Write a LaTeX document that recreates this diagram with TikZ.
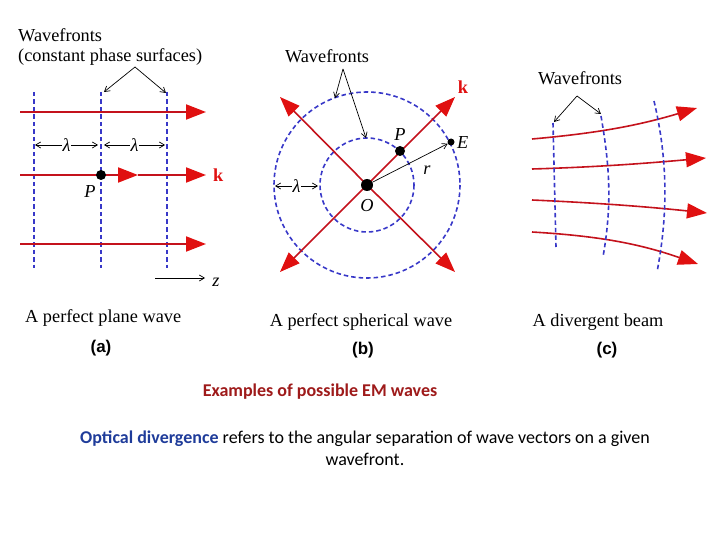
\documentclass[tikz,border=0pt]{standalone}
\usepackage{fontspec}
\setmainfont{Liberation Serif}
\newfontfamily\calib{Carlito}
\newfontfamily\arialf{Liberation Sans}
\usetikzlibrary{arrows.meta}
\definecolor{wred}{HTML}{E01010}
\definecolor{wline}{HTML}{C4121C}
\definecolor{wblue}{HTML}{3838C8}
\definecolor{capred}{HTML}{9E1A1A}
\definecolor{capblue}{HTML}{1F3C9A}
\begin{document}
\begin{tikzpicture}[x=1pt,y=-1pt,
  ray/.style={draw=wline,line width=2pt,-{Triangle[length=20pt,width=15pt,color=wred]}},
  sray/.style={draw=wline,line width=1.6pt,-{Triangle[length=20pt,width=15pt,color=wred]}},
  front/.style={draw=wblue,line width=1.6pt,dash pattern=on 4.5pt off 3pt},
  ptr/.style={draw=black,line width=0.7pt,-{Straight Barb[length=5pt,width=6pt]}},
  dptr/.style={draw=black,line width=0.7pt,{Straight Barb[length=5pt,width=6pt]}-{Straight Barb[length=5pt,width=6pt]}},
  lab/.style={font=\fontsize{18.3}{21}\selectfont,inner sep=0pt},
  ilab/.style={font=\itshape\fontsize{18.3}{21}\selectfont,inner sep=0pt},
  sub/.style={font=\arialf\bfseries\fontsize{17}{20}\selectfont,inner sep=0pt},
  kl/.style={font=\bfseries\fontsize{18.3}{21}\selectfont,text=wred,inner sep=0pt},
  dot/.style={circle,fill=black,inner sep=0pt,minimum size=#1},
  lam/.style={fill=white,inner sep=1pt,font=\itshape\fontsize{18.3}{21}\selectfont}
]
\path[use as bounding box] (0,0) rectangle (720,540);

% ---------- panel (a)
\node[lab,anchor=base west] (wfa1) at (18,42) {Wavefronts};
\node[lab,anchor=base west] (wfa2) at (18,62) {(constant phase surfaces)};
\foreach \x/\n in {34/1,101/2,167/3}{
  \coordinate (af\n t) at (\x,92);
  \coordinate (af\n b) at (\x,268);
  \draw[front] (af\n t) -- (af\n b);
}
\coordinate (ar1s) at (20,112); \coordinate (ar1e) at (206,112);
\coordinate (ar2s) at (20,175); \coordinate (ar2m) at (138,175); \coordinate (ar2e) at (206,175);
\coordinate (ar3s) at (20,244); \coordinate (ar3e) at (206,244);
\draw[ray] (ar1s) -- (ar1e);
\draw[ray] (ar2s) -- (ar2m);
\draw[ray] (ar2m) -- (ar2e);
\draw[ray] (ar3s) -- (ar3e);
\node[dot=10pt] (Pa) at (101,175) {};
\node[ilab] (Pal) at (90,192) {P};
\node[kl,anchor=west] (ka) at (213,175) {k};
\coordinate (la1) at (35,145); \coordinate (la2) at (98,145);
\coordinate (la3) at (104,145); \coordinate (la4) at (165,145);
\draw[dptr] (la1) -- node[lam] {λ} (la2);
\draw[dptr] (la3) -- node[lam] {λ} (la4);
\coordinate (apa) at (135,67);
\coordinate (pa1) at (104,92); \coordinate (pa2) at (166,93);
\draw[ptr] (apa) -- (pa1);
\draw[ptr] (apa) -- (pa2);
\coordinate (za) at (155,278); \coordinate (zb) at (205,278);
\draw[ptr] (za) -- (zb);
\node[ilab] (zl) at (216,282) {z};
\node[lab,anchor=base west] (capa) at (25,322) {A perfect plane wave};
\node[sub] (suba) at (101,348) {(a)};

% ---------- panel (b)
\coordinate (O) at (367,185);
\draw[front] (O) circle[radius=47];
\draw[front] (O) circle[radius=93];
\coordinate (bNE) at (455,97); \coordinate (bNW) at (280,97);
\coordinate (bSW) at (280,272); \coordinate (bSE) at (455,272);
\draw[sray] (O) -- (bNE);
\draw[sray] (O) -- (bNW);
\draw[sray] (O) -- (bSW);
\draw[sray] (O) -- (bSE);
\node[dot=12pt] (Ob) at (O) {};
\node[dot=10pt] (Pb) at (400,151) {};
\node[dot=7pt] (Eb) at (451,142) {};
\draw[ptr] (Ob) -- (Eb);
\node[ilab] (rl) at (427,170) {r};
\node[ilab,anchor=west] (El) at (457,143) {E};
\node[ilab] (Pbl) at (400,135) {P};
\node[ilab] (Obl) at (367,206) {O};
\node[kl] (kb) at (463,87) {k};
\coordinate (lb1) at (275,186); \coordinate (lb2) at (318,186);
\draw[dptr] (lb1) -- node[lam] {λ} (lb2);
\node[lab] (wfb) at (327,56) {Wavefronts};
\coordinate (apb) at (343,69);
\coordinate (pb1) at (335,98); \coordinate (pb2) at (366,138);
\draw[ptr] (apb) -- (pb1);
\draw[ptr] (apb) -- (pb2);
\node[lab,anchor=base] (capb) at (361,326) {A perfect spherical wave};
\node[sub] (subb) at (363,350) {(b)};

% ---------- panel (c)
\node[lab] (wfc) at (580,78) {Wavefronts};
\coordinate (apc) at (577,96);
\coordinate (pc1) at (554,122); \coordinate (pc2) at (601,114);
\draw[ptr] (apc) -- (pc1);
\draw[ptr] (apc) -- (pc2);
\coordinate (c1t) at (553,123); \coordinate (c1b) at (556,247);
\coordinate (c2t) at (601,116); \coordinate (c2b) at (603,257);
\coordinate (c3t) at (654,101); \coordinate (c3b) at (657,272);
\coordinate (r1s) at (532,139); \coordinate (r1e) at (697,108);
\coordinate (r2s) at (532,169); \coordinate (r2e) at (706,158);
\coordinate (r3s) at (532,200); \coordinate (r3e) at (707,213);
\coordinate (r4s) at (532,232); \coordinate (r4e) at (698,264);
\draw[sray] (r1s) .. controls (600,133) and (640,125) .. (r1e);
\draw[sray] (r2s) .. controls (600,167) and (650,163) .. (r2e);
\draw[sray] (r3s) .. controls (600,203) and (650,207) .. (r3e);
\draw[sray] (r4s) .. controls (600,236) and (640,244) .. (r4e);
\draw[front] (c1t) -- (c1b);
\draw[front] (c2t) .. controls (610,168) and (612,205) .. (c2b);
\draw[front] (c3t) .. controls (668,160) and (668,215) .. (c3b);
\node[lab,anchor=base] (capc) at (598,326) {A divergent beam};
\node[sub] (subc) at (607,350) {(c)};

% ---------- captions
\node[font=\calib\bfseries\fontsize{18}{21}\selectfont,text=capred,inner sep=0pt] (ex) at (320,392) {Examples of possible EM waves};
\node[font=\calib\fontsize{18}{22}\selectfont,align=center,inner sep=0pt,anchor=north] (od) at (365,431)
  {\textcolor{capblue}{\bfseries Optical divergence} refers to the angular separation of wave vectors on a given\\wavefront.};
\end{tikzpicture}
\end{document}
